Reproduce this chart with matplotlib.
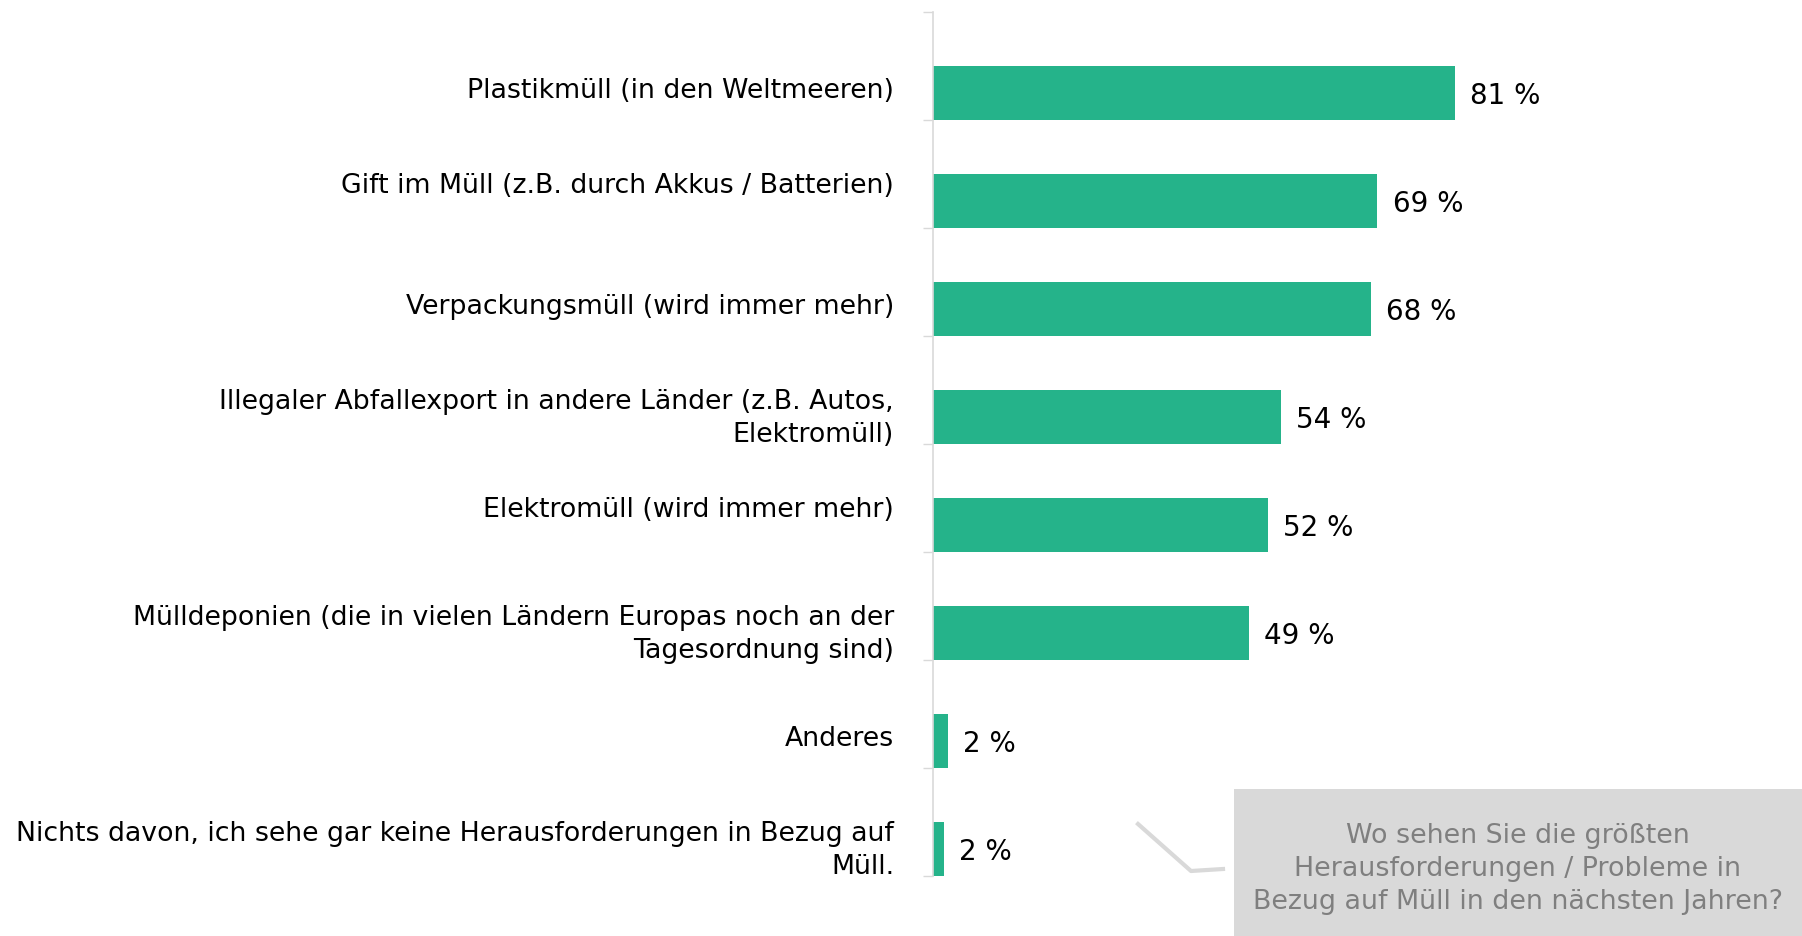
import numpy as np
import matplotlib.pyplot as plt
from matplotlib.patches import Rectangle
from matplotlib.lines import Line2D

# categories and values
labels = [
    'Plastikmüll (in den Weltmeeren)',
    'Gift im Müll (z.B. durch Akkus / Batterien)\n ',
    'Verpackungsmüll (wird immer mehr)',
    'Illegaler Abfallexport in andere Länder (z.B. Autos,\nElektromüll)',
    'Elektromüll (wird immer mehr)\n ',
    'Mülldeponien (die in vielen Ländern Europas noch an der\nTagesordnung sind)',
    'Anderes',
    'Nichts davon, ich sehe gar keine Herausforderungen in Bezug auf\nMüll.',
]
values = [81, 69, 68, 54, 52, 49, 2.3, 1.7]
question = 'Wo sehen Sie die größten\nHerausforderungen / Probleme in\nBezug auf Müll in den nächsten Jahren?'

W, H = 1802, 937
fig = plt.figure(figsize=(W / 100, H / 100), dpi=100)
ax = fig.add_axes([933 / W, 1 - 877 / H, 644 / W, 864 / H])

y = np.arange(len(values))
# bars sit in the lower half of each category slot
ax.barh(y + 0.25, values, height=0.5, color='#25B38A')
ax.set_xlim(0, 100)
ax.set_ylim(len(values) - 0.5, -0.5)

for yi, v in zip(y, values):
    ax.annotate(f'{v:.0f} %', (v, yi + 0.25), xytext=(11, -1.5), textcoords='offset points',
                va='center', ha='left', fontsize=20, color='black')

# category boundary ticks
ax.set_yticks(np.arange(len(values) + 1) - 0.5)
ax.set_yticklabels([])
ax.tick_params(axis='y', which='major', length=7, width=1, color='#d9d9d9')
# category labels, a little above the bar centres
ax.set_yticks(y + 0.19, minor=True)
ax.set_yticklabels(labels, minor=True, fontsize=19.3, linespacing=1.35)
ax.tick_params(axis='y', which='minor', length=0, pad=28)
ax.set_xticks([])

for s in ['top', 'right', 'bottom']:
    ax.spines[s].set_visible(False)
ax.spines['left'].set_color('#d9d9d9')
ax.spines['left'].set_linewidth(1.2)

# question callout box
fig.patches.append(Rectangle((1234 / W, 0), (W - 1234) / W, (H - 790) / H,
                             transform=fig.transFigure, facecolor='#d9d9d9', edgecolor='none'))
fig.lines.append(Line2D([1138 / W, 1191 / W, 1223 / W], [1 - 825 / H, 1 - 872 / H, 1 - 870 / H],
                        transform=fig.transFigure, color='#d9d9d9', linewidth=3))
fig.text(1518 / W, 1 - 869 / H, question, ha='center', va='center', fontsize=19.4,
         color='#7f7f7f', linespacing=1.35)

fig.savefig('out.png', dpi=100)
